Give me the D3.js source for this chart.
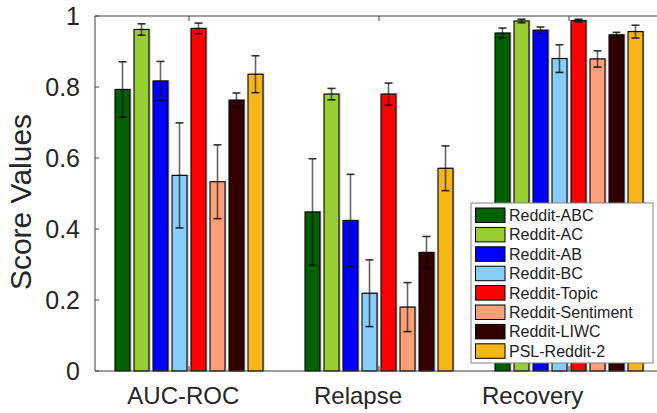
<!DOCTYPE html>
<html>
<head>
<meta charset="utf-8">
<script src="https://cdn.jsdelivr.net/npm/d3@7"></script>
<style>
  body { margin: 0; background: #fff; }
  text { font-family: "Liberation Sans", Arial, Helvetica, sans-serif; }
</style>
</head>
<body>
<script>
let width = 657,
    height = 413;

// data
let categories = ["AUC-ROC", "Relapse", "Recovery"];
let series = ["Reddit-ABC", "Reddit-AC", "Reddit-AB", "Reddit-BC",
              "Reddit-Topic", "Reddit-Sentiment", "Reddit-LIWC", "PSL-Reddit-2"];
let colors = ["#006000", "#9acd32", "#0000ff", "#87cefa",
              "#ff0000", "#ffa07a", "#330000", "#f6b619"];
// values per series: [AUC-ROC, Relapse, Recovery]
let values = [
    [0.793, 0.448, 0.952],
    [0.962, 0.780, 0.986],
    [0.817, 0.424, 0.960],
    [0.551, 0.219, 0.880],
    [0.965, 0.780, 0.987],
    [0.533, 0.180, 0.879],
    [0.763, 0.334, 0.947],
    [0.836, 0.571, 0.956]
];
let errors = [
    [0.078, 0.150, 0.014],
    [0.016, 0.016, 0.005],
    [0.055, 0.130, 0.009],
    [0.148, 0.094, 0.039],
    [0.015, 0.031, 0.004],
    [0.104, 0.069, 0.023],
    [0.020, 0.045, 0.007],
    [0.052, 0.063, 0.018]
];
let yTicks = [0, 0.2, 0.4, 0.6, 0.8, 1];

let svg = d3.select("body").append("svg")
    .attr("width", width).attr("height", height);

let x0 = d3.scaleBand().domain(categories).range([94, 664]);
let x1 = d3.scaleBand().domain(series).range([-74, 74]).paddingInner(4 / 19);
let xLabel = d3.scaleBand().domain(categories).range([96, 620]);
let y = d3.scaleLinear().domain([0, 1]).range([371, 16]);

let plotLeft = 95, plotTop = 16, plotBottom = 371;

// bars
let rows = [];
series.forEach(function (s, i) {
    categories.forEach(function (c, j) {
        rows.push({s: s, c: c, v: values[i][j], e: errors[i][j], color: colors[i]});
    });
});

let barX = d => x0(d.c) + x0.bandwidth() / 2 + x1(d.s);

// shadow
svg.append("g").selectAll("rect").data(rows).enter().append("rect")
    .attr("x", d => barX(d) + 1.5)
    .attr("y", d => y(d.v) - 1)
    .attr("width", x1.bandwidth())
    .attr("height", d => plotBottom - y(d.v) + 1)
    .attr("fill", "#c4c4c4");

svg.append("g").selectAll("rect").data(rows).enter().append("rect")
    .attr("x", d => barX(d))
    .attr("y", d => y(d.v))
    .attr("width", x1.bandwidth())
    .attr("height", d => plotBottom - y(d.v))
    .attr("fill", d => d.color)
    .attr("stroke", "#000")
    .attr("stroke-width", 1.1);

// error bars
let eg = svg.append("g").attr("stroke", "#000").attr("stroke-opacity", 0.6).attr("stroke-width", 1.6);
rows.forEach(function (d) {
    let cx = barX(d) + x1.bandwidth() / 2;
    eg.append("line").attr("x1", cx).attr("x2", cx)
        .attr("y1", y(d.v + d.e)).attr("y2", y(d.v - d.e));
    [d.v + d.e, d.v - d.e].forEach(function (t) {
        eg.append("line").attr("x1", cx - 4).attr("x2", cx + 4)
            .attr("y1", y(t)).attr("y2", y(t))
            .attr("stroke-opacity", 0.8);
    });
});

// axes frame
let axisColor = "#404040";
svg.append("line").attr("x1", plotLeft).attr("x2", width).attr("y1", plotTop).attr("y2", plotTop)
    .attr("stroke", axisColor).attr("stroke-width", 1);
svg.append("line").attr("x1", plotLeft).attr("x2", width).attr("y1", plotBottom).attr("y2", plotBottom)
    .attr("stroke", axisColor).attr("stroke-width", 1);
svg.append("line").attr("x1", plotLeft).attr("x2", plotLeft).attr("y1", plotTop).attr("y2", plotBottom)
    .attr("stroke", axisColor).attr("stroke-width", 1);

// y ticks
svg.append("g").selectAll("line").data(yTicks).enter().append("line")
    .attr("x1", plotLeft).attr("x2", plotLeft + 4)
    .attr("y1", d => y(d)).attr("y2", d => y(d))
    .attr("stroke", axisColor);
svg.append("g").selectAll("text").data(yTicks).enter().append("text")
    .attr("x", 80)
    .attr("y", d => y(d) + 9)
    .attr("text-anchor", "end")
    .attr("font-size", 25)
    .attr("fill", "#262626")
    .text(d => d === 0 || d === 1 ? d : d.toFixed(1));

// x ticks (bottom and top)
categories.forEach(function (c) {
    let cx = x0(c) + x0.bandwidth() / 2;
    svg.append("line").attr("x1", cx).attr("x2", cx).attr("y1", plotBottom).attr("y2", plotBottom - 5)
        .attr("stroke", axisColor);
    svg.append("line").attr("x1", cx).attr("x2", cx).attr("y1", plotTop).attr("y2", plotTop + 5)
        .attr("stroke", axisColor);
});
svg.append("g").selectAll("text").data(categories).enter().append("text")
    .attr("x", d => xLabel(d) + xLabel.bandwidth() / 2)
    .attr("y", 404)
    .attr("text-anchor", "middle")
    .attr("font-size", 24)
    .attr("fill", "#262626")
    .text(d => d);

// y label
svg.append("text")
    .attr("transform", "translate(31,202) rotate(-90)")
    .attr("text-anchor", "middle")
    .attr("font-size", 30)
    .attr("fill", "#262626")
    .text("Score Values");

// legend
let legend = svg.append("g").attr("transform", "translate(471,203)");
legend.append("rect").attr("width", 182).attr("height", 160)
    .attr("fill", "#fff").attr("stroke", "#808080").attr("stroke-width", 1);
let items = legend.selectAll(".item").data(series).enter().append("g")
    .attr("transform", (d, i) => "translate(0," + (5 + i * 19.4) + ")");
items.append("rect")
    .attr("x", 4.5).attr("width", 29.5).attr("height", 14.5)
    .attr("fill", (d, i) => colors[i])
    .attr("stroke", "#000").attr("stroke-width", 1);
items.append("text")
    .attr("x", 38).attr("y", 13)
    .attr("font-size", 16)
    .attr("fill", "#222")
    .text(d => d);
</script>
</body>
</html>
